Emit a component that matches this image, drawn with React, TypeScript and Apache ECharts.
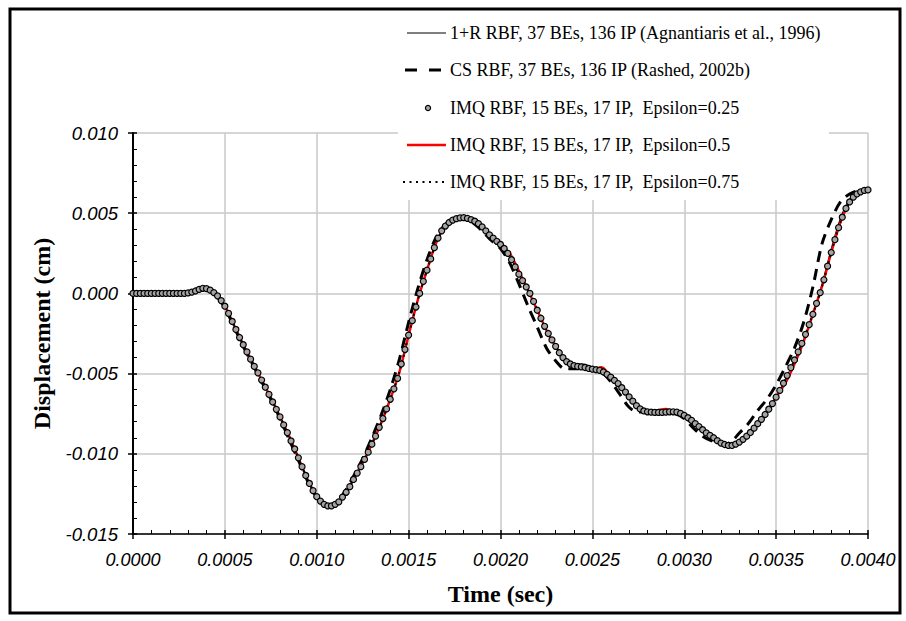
import React, { useEffect, useRef } from "react";
import * as echarts from "echarts";

// ---- axis ranges ----
const X_MIN = 0;
const X_MAX = 0.004;
const X_INTERVAL = 0.0005;
const Y_MIN = -0.015;
const Y_MAX = 0.01;
const Y_INTERVAL = 0.005;

// ---- legend names ----
const NAME_AGN = "1+R RBF, 37 BEs, 136 IP (Agnantiaris et al., 1996)";
const NAME_CS = "CS RBF, 37 BEs, 136 IP (Rashed, 2002b)";
const NAME_IMQ025 = "IMQ RBF, 15 BEs, 17 IP,  Epsilon=0.25";
const NAME_IMQ05 = "IMQ RBF, 15 BEs, 17 IP,  Epsilon=0.5";
const NAME_IMQ075 = "IMQ RBF, 15 BEs, 17 IP,  Epsilon=0.75";

// ---- sampling steps (sec) ----
const STEP_IMQ025 = 0.00002;
const STEP_CURVES = 0.00005;

// IMQ eps=0.25 markers, one value every 0.00002 s (0 .. 0.004)
const imq025 = [
  0, 0, 0, 0, 0, 0, 0, 0, 0, 0, 0, 0, 0, 0, 0,
  0.00003, 0.00008, 0.00015, 0.00025, 0.00032, 0.0003, 0.0002, 0.00005, -0.00015, -0.00045,
  -0.0008, -0.00125, -0.00175, -0.00225, -0.00275, -0.0032, -0.00365, -0.0041, -0.00455, -0.00495,
  -0.0054, -0.00585, -0.0063, -0.00677, -0.00723, -0.0077, -0.0082, -0.00868, -0.0092, -0.0097,
  -0.01025, -0.0108, -0.01135, -0.01185, -0.0123, -0.01267, -0.01295, -0.01315, -0.01325, -0.01325,
  -0.01315, -0.013, -0.0127, -0.0124, -0.01205, -0.0116, -0.0112, -0.0108, -0.01035, -0.0099,
  -0.0094, -0.0089, -0.00835, -0.0078, -0.0072, -0.0066, -0.00595, -0.0053, -0.0044, -0.0035,
  -0.0026, -0.0017, -0.00085, 0.0, 0.00075, 0.00145, 0.00215, 0.00285, 0.00345, 0.0039,
  0.0042, 0.00442, 0.00457, 0.00466, 0.00471, 0.00472, 0.00468, 0.0046, 0.0045, 0.00435,
  0.00415, 0.0039, 0.00365, 0.00345, 0.00325, 0.00305, 0.0028, 0.0025, 0.0021, 0.00165,
  0.0012, 0.0008, 0.0004, 0.0, -0.0005, -0.00105, -0.00155, -0.00205, -0.0025, -0.0029,
  -0.0033, -0.0037, -0.004, -0.00425, -0.0044, -0.0045, -0.00455, -0.00458, -0.00462, -0.00468,
  -0.00472, -0.00476, -0.0048, -0.0049, -0.00505, -0.00522, -0.00542, -0.00562, -0.00588, -0.00615,
  -0.00645, -0.00672, -0.007, -0.0072, -0.00733, -0.00738, -0.0074, -0.00742, -0.00742, -0.00742,
  -0.0074, -0.00738, -0.00738, -0.0074, -0.00748, -0.0076, -0.00775, -0.00792, -0.00812, -0.0083,
  -0.0085, -0.0087, -0.00885, -0.009, -0.00918, -0.00933, -0.00942, -0.00948, -0.00948, -0.0094,
  -0.00927, -0.0091, -0.0089, -0.00867, -0.0084, -0.00812, -0.00785, -0.00755, -0.00722, -0.00687,
  -0.00647, -0.00605, -0.0056, -0.00512, -0.00463, -0.00415, -0.00365, -0.00312, -0.00255, -0.00195,
  -0.0013, -0.00062, 0.00005, 0.00085, 0.0017, 0.00255, 0.00335, 0.0041, 0.00475, 0.0053,
  0.0057, 0.006, 0.0062, 0.00633, 0.00642, 0.00645,
];

// 1+R RBF (Agnantiaris), one value every 0.00005 s
const agnantiaris = [
  0, 0, 0, 0, 0, 0, 0.00003, 0.0002, 0.0003, -0.00005,
  -0.0008, -0.002, -0.0032, -0.0043, -0.0054, -0.0065, -0.0077, -0.0089, -0.01025, -0.0116,
  -0.01267, -0.0132, -0.01315, -0.01255, -0.0116, -0.01057, -0.0094, -0.0081, -0.0066, -0.0049,
  -0.0026, -0.0004, 0.00145, 0.00315, 0.0042, 0.00462, 0.00472, 0.00455, 0.00415, 0.00355,
  0.00305, 0.0023, 0.0012, 0.0002, -0.00105, -0.0023, -0.0033, -0.004, -0.0044, -0.0044,
  -0.0046, -0.00485, -0.00522, -0.00575, -0.00645, -0.0071, -0.00738, -0.00742, -0.0074, -0.00739,
  -0.0078, -0.0082, -0.0085, -0.00893, -0.00933, -0.00948, -0.00927, -0.0088, -0.00812, -0.0074,
  -0.00647, -0.00536, -0.00415, -0.00284, -0.0013, 0.0006, 0.0028, 0.0047, 0.0059, 0.0063,
  0.00645,
];

// CS RBF (Rashed), one value every 0.00005 s
const rashed = [
  0, 0, 0, 0, 0, 0, 0.00003, 0.0002, 0.0003, -0.0001,
  -0.0009, -0.0021, -0.0033, -0.0044, -0.0055, -0.0066, -0.0078, -0.0091, -0.0104, -0.0117,
  -0.0127, -0.0132, -0.0131, -0.0124, -0.0114, -0.0103, -0.009, -0.0076, -0.006, -0.0041,
  -0.0018, 0.0003, 0.0021, 0.0035, 0.0043, 0.00465, 0.0047, 0.0044, 0.0039, 0.0033,
  0.0028, 0.0019, 0.0006, -0.0008, -0.0021, -0.0034, -0.0042, -0.0047, -0.0047, -0.0047,
  -0.0047, -0.0049, -0.0055, -0.0063, -0.0071, -0.0074, -0.0074, -0.0074, -0.0074, -0.0075,
  -0.0078, -0.0084, -0.0089, -0.0092, -0.0094, -0.0093, -0.0087, -0.0081, -0.0073, -0.0066,
  -0.0057, -0.0046, -0.0034, -0.0018, 0.0004, 0.0031, 0.0046, 0.0057, 0.0062, 0.0064,
  0.0064,
];

// IMQ eps=0.5, one value every 0.00005 s
const imq05 = [
  0, 0, 0, 0, 0, 0, 0.00003, 0.0002, 0.0003, -0.00005,
  -0.0008, -0.002, -0.0032, -0.0043, -0.0054, -0.0065, -0.0077, -0.0089, -0.01025, -0.0116,
  -0.01267, -0.0132, -0.01315, -0.01255, -0.0116, -0.01057, -0.0094, -0.0081, -0.0066, -0.0049,
  -0.0026, -0.0004, 0.00145, 0.00315, 0.0042, 0.00462, 0.00472, 0.00455, 0.00415, 0.00355,
  0.00305, 0.0025, 0.0014, 0.0002, -0.00105, -0.0023, -0.0033, -0.00413, -0.0045, -0.0046,
  -0.0047, -0.0046, -0.00522, -0.00575, -0.00645, -0.0071, -0.00738, -0.0073, -0.0072, -0.00739,
  -0.0076, -0.00802, -0.0085, -0.00893, -0.00933, -0.00948, -0.00927, -0.0088, -0.00812, -0.0074,
  -0.00647, -0.0056, -0.0044, -0.003, -0.0013, 0.00045, 0.00255, 0.00443, 0.0057, 0.00627,
  0.00645,
];

// IMQ eps=0.75, one value every 0.00005 s
const imq075 = [
  0, 0, 0, 0, 0, 0, 0.00003, 0.0002, 0.0003, -0.00005,
  -0.0008, -0.002, -0.0032, -0.0043, -0.0054, -0.0065, -0.0077, -0.0089, -0.01025, -0.0116,
  -0.01267, -0.0132, -0.01315, -0.01255, -0.0116, -0.01057, -0.0094, -0.0081, -0.0066, -0.0049,
  -0.0026, -0.0004, 0.00145, 0.00315, 0.0042, 0.00462, 0.00472, 0.00455, 0.00415, 0.00355,
  0.00305, 0.0023, 0.0012, 0.0002, -0.00105, -0.0023, -0.0033, -0.00413, -0.0045, -0.0046,
  -0.00472, -0.00485, -0.0053, -0.00575, -0.00645, -0.0071, -0.00738, -0.00742, -0.0074, -0.00739,
  -0.0076, -0.00802, -0.0085, -0.00893, -0.00933, -0.00948, -0.0093, -0.0088, -0.00812, -0.0074,
  -0.00647, -0.00536, -0.00415, -0.00284, -0.0013, 0.00045, 0.00255, 0.00443, 0.0057, 0.00627,
  0.00645,
];

const toPairs = (vals: number[], step: number) =>
  vals.map((v, i) => [+(i * step).toFixed(6), v]);

const SERIF = '"Liberation Serif", "Times New Roman", serif';
const SANS = '"Liberation Sans", Arial, sans-serif';

export default function App() {
  const ref = useRef<HTMLDivElement>(null);

  useEffect(() => {
    if (!ref.current) return;
    const chart = echarts.init(ref.current, undefined, { renderer: "svg" });

    const gridLine = { show: true, lineStyle: { color: "#c8c8c8", width: 1.5 } };
    const legendX1 = 407;
    const legendX2 = 446;
    const textX = 450;
    const rows = [33, 70, 108, 145, 182];
    const legendText = (y: number, text: string) => ({
      type: "text",
      x: textX,
      y,
      z: 12,
      style: {
        text,
        fill: "#000",
        fontSize: 18,
        fontFamily: SERIF,
        verticalAlign: "middle",
        align: "left",
      },
    });

    chart.setOption({
      animation: false,
      backgroundColor: "#fff",
      grid: { left: 133, top: 133, width: 735, height: 401, containLabel: false },
      xAxis: [
        {
          type: "value",
          min: X_MIN,
          max: X_MAX,
          interval: X_INTERVAL,
          axisLine: { show: true, onZero: false, lineStyle: { color: "#000", width: 1.5 } },
          axisTick: { show: true, length: 5, lineStyle: { color: "#000", width: 1.5 } },
          minorTick: { show: false },
          axisLabel: {
            formatter: (v: number) => v.toFixed(4),
            fontSize: 18,
            fontStyle: "italic",
            fontFamily: SANS,
            color: "#000",
            margin: 17,
          },
          splitLine: gridLine,
          name: "Time (sec)",
          nameLocation: "middle",
          nameGap: 48,
          nameTextStyle: { fontFamily: SERIF, fontWeight: "bold", fontSize: 24, color: "#000" },
        },
        {
          type: "value",
          min: X_MIN,
          max: X_MAX,
          interval: X_INTERVAL,
          position: "bottom",
          axisLine: { show: false, onZero: false },
          axisTick: { show: true, inside: true, length: 4, lineStyle: { color: "#000", width: 1.5 } },
          minorTick: { show: true, splitNumber: 5, length: 4, lineStyle: { color: "#000", width: 1 } },
          axisLabel: { show: false },
          splitLine: { show: false },
        },
      ],
      yAxis: [
        {
          type: "value",
          min: Y_MIN,
          max: Y_MAX,
          interval: Y_INTERVAL,
          axisLine: { show: true, onZero: false, lineStyle: { color: "#000", width: 2 } },
          axisTick: { show: true, length: 5, lineStyle: { color: "#000", width: 1.5 } },
          minorTick: { show: false },
          axisLabel: {
            formatter: (v: number) => (Math.abs(v) < 1e-12 ? "0.000" : v.toFixed(3)),
            fontSize: 18.5,
            fontStyle: "italic",
            fontFamily: SANS,
            color: "#000",
            margin: 15,
          },
          splitLine: gridLine,
          name: "Displacement (cm)",
          nameLocation: "middle",
          nameGap: 79,
          nameTextStyle: { fontFamily: SERIF, fontWeight: "bold", fontSize: 24, color: "#000" },
        },
        {
          type: "value",
          min: Y_MIN,
          max: Y_MAX,
          interval: Y_INTERVAL,
          position: "left",
          axisLine: { show: false, onZero: false },
          axisTick: { show: true, inside: true, length: 4, lineStyle: { color: "#000", width: 1.5 } },
          minorTick: { show: true, splitNumber: 5, length: 4, lineStyle: { color: "#000", width: 1 } },
          axisLabel: { show: false },
          splitLine: { show: false },
        },
      ],
      series: [
        {
          name: NAME_AGN,
          type: "line",
          data: toPairs(agnantiaris, STEP_CURVES),
          symbol: "none",
          smooth: 0.3,
          lineStyle: { color: "#000", width: 1 },
          z: 2,
        },
        {
          name: NAME_CS,
          type: "line",
          data: toPairs(rashed, STEP_CURVES),
          symbol: "none",
          smooth: 0.3,
          lineStyle: { color: "#000", width: 3, type: [11, 7] },
          z: 3,
        },
        {
          name: NAME_IMQ05,
          type: "line",
          data: toPairs(imq05, STEP_CURVES),
          symbol: "none",
          smooth: 0.3,
          lineStyle: { color: "#ff0000", width: 2.5 },
          z: 2,
        },
        {
          name: NAME_IMQ075,
          type: "line",
          data: toPairs(imq075, STEP_CURVES),
          symbol: "none",
          smooth: 0.3,
          lineStyle: { color: "#000", width: 2, type: [2, 4] },
          z: 2,
        },
        {
          name: NAME_IMQ025,
          type: "scatter",
          data: toPairs(imq025, STEP_IMQ025),
          symbol: "circle",
          symbolSize: 6,
          itemStyle: { color: "#a4a4a4", borderColor: "#000", borderWidth: 1.2, opacity: 1 },
          z: 4,
        },
      ],
      graphic: [
        {
          type: "rect",
          z: 10,
          shape: { x: 398, y: 14, width: 431, height: 186 },
          style: { fill: "#fff", stroke: "none" },
        },
        {
          type: "line",
          z: 12,
          shape: { x1: legendX1, y1: rows[0], x2: legendX2, y2: rows[0] },
          style: { stroke: "#000", lineWidth: 1 },
        },
        legendText(rows[0], NAME_AGN),
        {
          type: "line",
          z: 12,
          shape: { x1: 405, y1: rows[1], x2: 443, y2: rows[1] },
          style: { stroke: "#000", lineWidth: 3, lineDash: [12, 12] },
        },
        legendText(rows[1], NAME_CS),
        {
          type: "circle",
          z: 12,
          shape: { cx: 428, cy: rows[2], r: 2.6 },
          style: { fill: "#a4a4a4", stroke: "#000", lineWidth: 1.2 },
        },
        legendText(rows[2], NAME_IMQ025),
        {
          type: "line",
          z: 12,
          shape: { x1: legendX1, y1: rows[3], x2: legendX2, y2: rows[3] },
          style: { stroke: "#ff0000", lineWidth: 2.5 },
        },
        legendText(rows[3], NAME_IMQ05),
        {
          type: "line",
          z: 12,
          shape: { x1: 403, y1: rows[4], x2: 445, y2: rows[4] },
          style: { stroke: "#000", lineWidth: 2, lineDash: [2, 4.5] },
        },
        legendText(rows[4], NAME_IMQ075),
        {
          type: "rect",
          z: 20,
          shape: { x: 10, y: 9, width: 890, height: 604 },
          style: { fill: "none", stroke: "#000", lineWidth: 3 },
        },
      ],
    });

    return () => chart.dispose();
  }, []);

  return (
    <div
      ref={ref}
      style={{ position: "absolute", left: 0, top: 0, width: 906, height: 621 }}
    />
  );
}
